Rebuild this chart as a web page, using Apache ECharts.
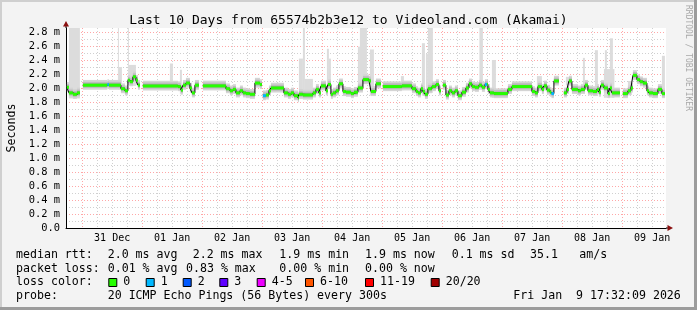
<!DOCTYPE html>
<html><head><meta charset="utf-8">
<script src="https://cdn.jsdelivr.net/npm/echarts@6/dist/echarts.min.js"></script>
<style>html,body{margin:0;padding:0;background:#f3f3f3}#c{width:697px;height:310px}</style>
</head><body><div id="c"></div>
<script>
// ---------- data (x = hours since 2025-12-30 00:00) ----------
const chartTitle = 'Last 10 Days from 65574b2b3e12 to Videoland.com (Akamai)';
const xMin = 17.535, xMax = 257.535;
const yMax = 2.857;
const dayLabels = ['31 Dec','01 Jan','02 Jan','03 Jan','04 Jan','05 Jan','06 Jan','07 Jan','08 Jan','09 Jan'];
const dayNoon = [36,60,84,108,132,156,180,204,228,252];
const dayMidnight = [24,48,72,96,120,144,168,192,216,240];
const yMajor = [0,0.2,0.4,0.6,0.8,1.0,1.2,1.4,1.6,1.8,2.0,2.2,2.4,2.6,2.8];
const yMinor = [0.1,0.3,0.5,0.7,0.9,1.1,1.3,1.5,1.7,1.9,2.1,2.3,2.5,2.7];

// median rtt (ms) as step segments: start hour, value (null = no data), loss class
const segStart = [17.9,18.7,20.3,21.9,23.1,24.3,34.1,34.7,39.5,41.1,42.3,43.1,44.3,45.5,46.3,47.1,48.3,62.3,63.5,64.3,65.5,67.1,67.9,69.1,70.7,72.3,81.5,83.1,84.3,85.5,87.1,88.3,89.5,91.1,93.1,95.1,95.9,96.3,97.5,98.7,99.5,104.7,106.3,107.5,108.7,110.3,110.7,112.3,116.3,117.5,118.7,119.5,121.5,122.3,123.5,124.3,125.5,126.7,128.3,129.5,131.5,132.7,134.3,136.3,138.7,139.5,141.5,143.5,144.3,151.9,155.9,157.5,158.3,159.5,160.3,161.1,162.3,163.9,165.5,166.7,167.5,168.3,169.5,170.7,171.9,173.1,174.3,175.9,177.5,178.7,179.9,181.1,182.7,183.9,185.1,185.9,186.3,187.1,188.7,194.3,195.9,203.9,205.1,206.3,207.9,208.7,209.9,211.1,211.7,212.7,214.7,216.7,217.9,218.7,219.9,222.3,223.5,225.1,226.3,228.3,229.9,230.7,231.5,232.7,234.3,235.1,235.9,239.1,240.3,242.3,243.5,244.3,245.9,247.1,248.3,249.9,250.7,252.3,254.3,255.9];
const segMedian = [2.01,1.93,1.91,1.93,null,2.04,2.05,2.04,1.99,1.96,2.11,2.09,2.16,2.11,2.04,null,2.03,2.02,1.97,2.04,2.07,2.00,1.93,2.04,null,2.03,1.99,1.96,1.98,1.93,1.96,1.93,1.92,1.91,2.07,2.05,null,1.89,1.90,1.96,2.00,1.93,1.91,1.93,1.89,1.86,1.91,1.90,1.93,1.98,1.93,2.03,1.96,2.05,1.91,1.93,1.96,2.06,1.95,1.94,1.92,1.94,2.00,2.12,2.10,1.95,2.06,null,2.02,2.03,1.99,1.95,1.93,1.99,1.95,1.91,1.99,2.02,2.05,1.96,null,2.04,1.90,1.96,1.93,1.96,1.89,1.94,2.00,2.06,2.02,2.01,2.04,2.01,2.05,2.05,1.98,1.93,1.92,1.98,2.02,1.95,1.93,2.02,1.98,2.03,1.97,1.94,1.92,2.10,null,1.93,1.98,2.10,1.98,1.96,1.98,2.04,1.96,1.95,1.98,1.94,2.04,2.00,1.92,2.00,1.93,null,1.92,1.96,2.00,2.18,2.12,2.09,2.07,1.96,1.93,1.92,1.98,1.92];
const segLoss = [0,0,0,0,0,0,1,0,0,0,0,0,0,0,0,0,0,0,0,0,0,0,0,0,0,0,0,0,0,0,0,0,0,0,0,0,0,1,0,0,0,0,0,0,0,0,0,0,0,0,0,0,0,0,0,0,0,0,0,0,0,0,0,0,0,0,0,0,0,0,0,0,0,0,0,0,0,0,0,0,0,0,0,0,0,0,0,0,0,0,0,0,0,0,1,0,0,0,0,0,0,0,0,0,0,0,0,0,1,0,0,0,0,0,0,0,0,0,0,0,0,0,0,0,0,0,0,0,0,0,0,0,0,0,0,0,0,0,0,0,0];
const dataEnd = 257.1;

// smoke peaks (slowest pings): start hour, end hour, top value (ms)
const spikeStart = [18.7,38.3,38.7,42.3,42.7,59.1,63.1,110.7,112.3,113.1,121.9,122.7,134.3,135.1,139.1,151.5,159.9,161.5,162.3,182.9,187.9,205.9,217.5,224.3,229.1,232.7,233.1,235.1,242.3,255.9];
const spikeEnd   = [23.1,38.7,39.9,42.7,45.5,60.3,63.9,112.3,113.1,116.3,122.7,123.5,135.1,137.9,140.7,152.7,161.1,162.3,164.3,184.3,189.5,207.9,219.9,225.1,230.3,236.9,233.9,236.3,243.9,257.1];
const spikeTop   = [2.9,2.9,2.30,2.9,2.33,2.35,2.26,2.42,2.9,2.13,2.56,2.42,2.59,2.9,2.55,2.17,2.64,2.49,2.9,2.9,2.40,2.17,2.16,2.43,2.54,2.27,2.54,2.71,2.10,2.46];

const lossColors = ['#26ff00','#00b8ff','#0059ff','#5e00ff','#ed00ff','#ff5500','#ff0000','#a00000'];
const lossLabels = ['0','1','2','3','4-5','6-10','11-19','20/20'];

const legendRows = [
  [['median rtt:',16],['2.0 ms avg',107.7],['2.2 ms max',192.7],['1.9 ms min',279.3],['1.9 ms now',365],['0.1 ms sd',451.7],['35.1',530],['am/s',579.3]],
  [['packet loss:',16],['0.01 % avg',107.7],['0.83 % max',186],['0.00 % min',279.3],['0.00 % now',365]],
  [['loss color:',16]],
  [['probe:',16],['20 ICMP Echo Pings (56 Bytes) every 300s',107.7],['Fri Jan  9 17:32:09 2026',513.3]]
];
const legendRowY = [255,268.5,282.3,295.7];
const lossBoxX = [108.3,145.7,182.7,219.3,256.7,305,365,430.7];

// ---------- build ----------
const MONO = 'DejaVu Sans Mono';
const segs = [];
for (let i = 0; i < segStart.length; i++) {
  if (segMedian[i] === null) continue;
  const end = i + 1 < segStart.length ? segStart[i + 1] : dataEnd;
  segs.push([segStart[i], end, segMedian[i], segLoss[i]]);
}
function medianAt(h) {
  for (const s of segs) if (h >= s[0] && h < s[1]) return s[2];
  return 2.0;
}
const spikes = spikeStart.map((s, i) => [s, spikeEnd[i], medianAt((s + spikeEnd[i]) / 2) - 0.06, spikeTop[i]]);
const stepLine = [];
for (let i = 0; i < segStart.length; i++) {
  const v = segMedian[i];
  const nextStart = i + 1 < segStart.length ? segStart[i + 1] : dataEnd;
  if (v === null) { stepLine.push([segStart[i], '-']); continue; }
  stepLine.push([segStart[i], v]);
  if (i + 1 >= segStart.length || segMedian[i + 1] === null) stepLine.push([nextStart, v]);
}
const sixHour = [];
for (let h = 24; h < xMax; h += 6) if (h % 24 !== 0) sixHour.push(h);

function clipBox(params, api, x0, x1, lo, hi) {
  const a = api.coord([x0, hi]), b = api.coord([x1, lo]);
  return echarts.graphic.clipRectByRect(
    {x: a[0], y: a[1], width: b[0] - a[0], height: b[1] - a[1]},
    {x: params.coordSys.x, y: params.coordSys.y, width: params.coordSys.width, height: params.coordSys.height});
}

const chart = echarts.init(document.getElementById('c'), null, {renderer: 'canvas'});
const redGrid = {color: 'rgba(255,80,80,0.5)', type: [1, 2], width: 1};
const grayGrid = {color: '#d0d0d0', type: [1, 2], width: 1};

const graphics = [];
legendRows.forEach((row, r) => row.forEach(([t, x]) => graphics.push({
  type: 'text', x: x, y: legendRowY[r],
  style: {text: t, font: '11.6px "' + MONO + '"', fill: '#000', textVerticalAlign: 'middle', textAlign: 'left'}
})));
lossLabels.forEach((lab, i) => {
  graphics.push({type: 'rect', shape: {x: lossBoxX[i] + 0.5, y: 278.5, width: 8, height: 8},
    style: {fill: lossColors[i], stroke: '#000', lineWidth: 1}});
  graphics.push({type: 'text', x: lossBoxX[i] + 15, y: legendRowY[2],
    style: {text: lab, font: '11.6px "' + MONO + '"', fill: '#000', textVerticalAlign: 'middle'}});
});
graphics.push({type: 'text', x: 688, y: 5, rotation: -Math.PI / 2,
  style: {text: 'RRDTOOL / TOBI OETIKER', font: '8px "' + MONO + '"', fill: '#a8a8a8', textVerticalAlign: 'middle'}});
// frame
graphics.push({type: 'rect', shape: {x: 0, y: 0, width: 2, height: 310}, style: {fill: '#cfcfcf'}});
graphics.push({type: 'rect', shape: {x: 0, y: 0, width: 697, height: 2}, style: {fill: '#cfcfcf'}});
graphics.push({type: 'rect', shape: {x: 694, y: 0, width: 3, height: 310}, style: {fill: '#9c9c9c'}});
graphics.push({type: 'rect', shape: {x: 0, y: 307, width: 697, height: 3}, style: {fill: '#9c9c9c'}});

chart.setOption({
  backgroundColor: '#f3f3f3',
  animation: false,
  title: {text: chartTitle, left: 'center', top: 9,
    textStyle: {fontFamily: MONO, fontSize: 13, fontWeight: 'normal', color: '#000'}},
  grid: {left: 66, right: 31, top: 28, bottom: 82, show: true, backgroundColor: '#ffffff', borderWidth: 0,
    containLabel: false, outerBoundsMode: 'none'},
  xAxis: [{
    type: 'value', min: xMin, max: xMax,
    axisLine: {show: true, onZero: false, lineStyle: {color: '#000', width: 1}},
    axisTick: {show: false, customValues: dayMidnight},
    axisLabel: {customValues: dayNoon, formatter: v => dayLabels[dayNoon.indexOf(v)] || '',
      fontFamily: MONO, fontSize: 10, color: '#000', margin: 5},
    splitLine: {show: true, lineStyle: redGrid}
  }, {
    type: 'value', min: xMin, max: xMax, position: 'bottom',
    axisLine: {show: false}, axisTick: {show: false, customValues: sixHour}, axisLabel: {show: false},
    splitLine: {show: true, lineStyle: grayGrid}
  }],
  yAxis: [{
    type: 'value', min: 0, max: yMax,
    name: 'Seconds', nameLocation: 'middle', nameGap: 47, nameRotate: 90,
    nameTextStyle: {fontFamily: MONO, fontSize: 11.6, color: '#000'},
    axisLine: {show: true, lineStyle: {color: '#000', width: 1}},
    axisTick: {show: false, customValues: yMajor},
    axisLabel: {customValues: yMajor, formatter: v => v < 0.001 ? '0.0' : v.toFixed(1) + ' m',
      fontFamily: MONO, fontSize: 10.4, color: '#000', margin: 6},
    splitLine: {show: true, lineStyle: redGrid}
  }, {
    type: 'value', min: 0, max: yMax, position: 'left',
    axisLine: {show: false}, axisTick: {show: false, customValues: yMinor}, axisLabel: {show: false},
    splitLine: {show: true, lineStyle: grayGrid}
  }],
  series: [{
    type: 'custom', name: 'smoke peaks', z: 1, silent: true,
    data: spikes, encode: {x: [0, 1], y: [2, 3]},
    renderItem: (params, api) => {
      const d = spikes[params.dataIndex];
      const sh = clipBox(params, api, d[0], d[1], d[2], d[3]);
      return sh && {type: 'rect', shape: sh, style: {fill: '#dcdcdc'}};
    }
  }, {
    type: 'custom', name: 'smoke', z: 2, silent: true,
    data: segs, encode: {x: [0, 1], y: 2},
    renderItem: (params, api) => {
      const d = segs[params.dataIndex];
      const bands = [[-0.065, 0.075, '#d4d4d4'], [-0.04, 0.048, '#bcbcbc'], [-0.02, 0.024, '#979797']];
      const children = [];
      bands.forEach(([lo, hi, c]) => {
        const sh = clipBox(params, api, d[0], d[1], d[2] + lo, d[2] + hi);
        if (sh) children.push({type: 'rect', shape: sh, style: {fill: c}});
      });
      return {type: 'group', children};
    }
  }, {
    type: 'line', name: 'median', z: 3, step: 'end', symbol: 'none', silent: true,
    data: stepLine, connectNulls: false,
    lineStyle: {color: '#000', width: 1}
  }, {
    type: 'custom', name: 'loss', z: 4, silent: true,
    data: segs, encode: {x: [0, 1], y: 2},
    renderItem: (params, api) => {
      const d = segs[params.dataIndex];
      const p = api.coord([d[0], d[2]]), q = api.coord([d[1], d[2]]);
      return {type: 'rect', shape: {x: p[0], y: p[1] - 1.5, width: q[0] - p[0], height: 3},
        style: {fill: lossColors[d[3]]}};
    }
  }],
  graphic: graphics
});

// axis arrows (dark red), placed from the axis scales
const yTopPx = chart.convertToPixel({xAxisIndex: 0, yAxisIndex: 0}, [xMin, yMax]);
const xEndPx = chart.convertToPixel({xAxisIndex: 0, yAxisIndex: 0}, [xMax, 0]);
chart.setOption({graphic: graphics.concat([
  {type: 'line', shape: {x1: yTopPx[0], y1: yTopPx[1], x2: yTopPx[0], y2: yTopPx[1] - 2}, style: {stroke: '#000', lineWidth: 1}},
  {type: 'polygon', shape: {points: [[yTopPx[0], yTopPx[1] - 7], [yTopPx[0] - 3, yTopPx[1] - 1.5], [yTopPx[0] + 3, yTopPx[1] - 1.5]]}, style: {fill: '#8b1010'}},
  {type: 'line', shape: {x1: xEndPx[0], y1: xEndPx[1], x2: xEndPx[0] + 2, y2: xEndPx[1]}, style: {stroke: '#000', lineWidth: 1}},
  {type: 'polygon', shape: {points: [[xEndPx[0] + 7, xEndPx[1]], [xEndPx[0] + 1.5, xEndPx[1] - 3], [xEndPx[0] + 1.5, xEndPx[1] + 3]]}, style: {fill: '#8b1010'}}
])});
</script></body></html>
